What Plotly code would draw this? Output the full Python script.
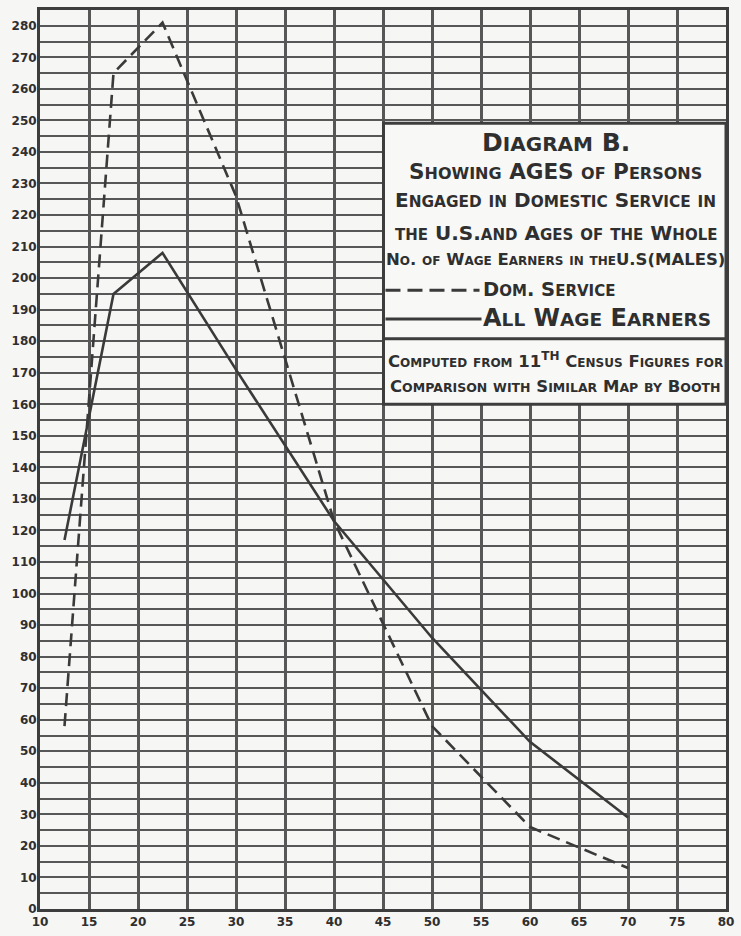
import plotly.graph_objects as go

# ---- data ----
ages = [12.5, 17.5, 22.5, 30, 40, 50, 60, 70]
dom_service = [58, 265, 281, 226, 123, 58, 26, 13]
all_wage_earners = [117, 195, 208, 171, 123, 86, 53, 29]

x_ticks = list(range(10, 81, 5))
y_ticks = list(range(0, 281, 10))
y_minor = list(range(5, 281, 10))

W, H = 741, 936
ML, MR, MT, MB = 40, 8, 7, 24
PW, PH = W - ML - MR, H - MT - MB

def px(xp):
    return (xp - ML) / PW

def py(yp):
    return (H - MB - yp) / PH

INK = "#2f2f2f"
GRID = "#575757"
BG = "#f6f6f4"

def sc(text, big, small):
    """Small-caps emulation: uppercase source letters big, lowercase shown as small capitals.
    HTML tags in the text are copied untouched."""
    out = []
    i = 0
    while i < len(text):
        ch = text[i]
        if ch == "<":
            j = text.index(">", i)
            out.append(text[i:j + 1])
            i = j + 1
            continue
        if ch.islower():
            out.append(f"<span style='font-size:{small}px'>{ch.upper()}</span>")
        else:
            out.append(ch)
        i += 1
    return f"<span style='font-size:{big}px'>" + "".join(out) + "</span>"

fig = go.Figure()
fig.add_trace(go.Scatter(x=ages, y=dom_service, mode="lines", name="Dom. Service",
                         line=dict(color="#3a3a3a", width=2.6, dash="13px,7px")))
fig.add_trace(go.Scatter(x=ages, y=all_wage_earners, mode="lines", name="All Wage Earners",
                         line=dict(color="#3a3a3a", width=2.6)))

tickfont = dict(family="DejaVu Sans", size=12, color=INK, weight="bold")

fig.update_layout(
    width=W, height=H,
    margin=dict(l=ML, r=MR, t=MT, b=MB),
    paper_bgcolor=BG, plot_bgcolor=BG,
    showlegend=False,
    xaxis=dict(range=[10, 80], tickvals=x_ticks, ticktext=[str(v) for v in x_ticks],
               showgrid=True, gridcolor=GRID, gridwidth=2.5, zeroline=False,
               showline=True, linecolor="#3d3d3d", linewidth=3, mirror=True,
               ticks="", tickfont=tickfont, ticklabelstandoff=0),
    yaxis=dict(range=[0, 285], tickvals=y_ticks, ticktext=[str(v) for v in y_ticks],
               showgrid=True, gridcolor=GRID, gridwidth=2, zeroline=False,
               showline=True, linecolor="#3d3d3d", linewidth=3, mirror=True,
               ticks="", tickfont=tickfont, ticklabelstandoff=-2,
               minor=dict(tickvals=y_minor, showgrid=True, gridcolor=GRID, gridwidth=2)),
)

# ---- title / legend box ----
BX0, BX1, BY0, BY1, SEP = 387, 733, 121, 404, 338
fig.add_shape(type="rect", xref="paper", yref="paper",
              x0=px(BX0), x1=px(BX1), y0=py(BY1), y1=py(BY0),
              fillcolor="#f8f8f7", line=dict(color="#3d3d3d", width=3), layer="above")
fig.add_shape(type="line", xref="paper", yref="paper",
              x0=px(BX0), x1=px(BX1), y0=py(SEP), y1=py(SEP),
              line=dict(color="#3d3d3d", width=3), layer="above")
# legend samples
fig.add_shape(type="line", xref="paper", yref="paper",
              x0=px(389), x1=px(484), y0=py(289), y1=py(289),
              line=dict(color="#3a3a3a", width=3, dash="15px,7px"), layer="above")
fig.add_shape(type="line", xref="paper", yref="paper",
              x0=px(389), x1=px(486), y0=py(318), y1=py(318),
              line=dict(color="#3a3a3a", width=3), layer="above")

CX = (BX0 + BX1) / 2 + 1
font = dict(family="DejaVu Sans", color=INK, weight="bold")
centre_lines = [
    ("Diagram B.", 140, 25, 20),
    ("Showing AGES of Persons", 170, 21.5, 16),
    ("Engaged in Domestic Service in", 198, 20, 15.3),
    ("the U.S.and Ages of the Whole", 231, 20, 15),
    ("No. of Wage Earners in theU.S(MALES)", 258, 16.5, 12),
    ("Computed from 11<sup>th</sup> Census Figures for", 359, 16.5, 12),
    ("Comparison with Similar Map by Booth", 386, 16.5, 12.5),
]
for txt, y, b, s in centre_lines:
    fig.add_annotation(xref="paper", yref="paper", x=px(CX), y=py(y),
                       text=sc(txt, b, s), showarrow=False, font=font,
                       xanchor="center", yanchor="middle")
for txt, y, b, s in [("Dom. Service", 288, 19.5, 15), ("All Wage Earners", 317, 24, 18.5)]:
    fig.add_annotation(xref="paper", yref="paper", x=px(486), y=py(y),
                       text=sc(txt, b, s), showarrow=False, font=font,
                       xanchor="left", yanchor="middle")

fig.write_html("out.html", config={"displayModeBar": False},
               post_script="document.body.style.margin='0';")
